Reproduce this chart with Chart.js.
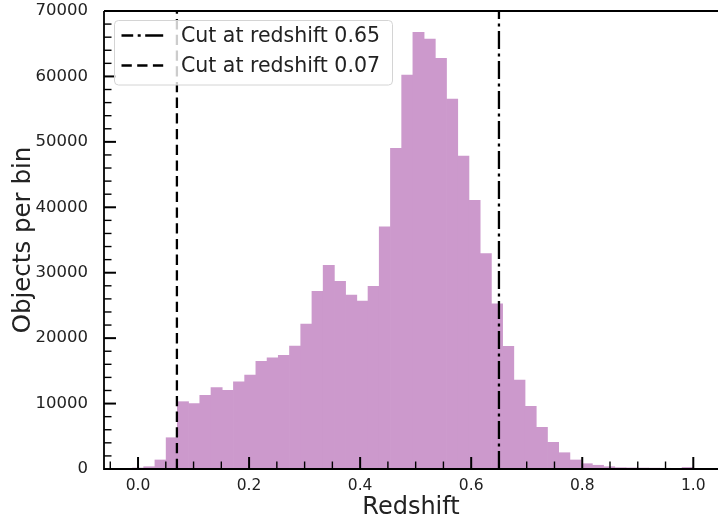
<!DOCTYPE html>
<html>
<head>
<meta charset="utf-8">
<script src="https://cdn.jsdelivr.net/npm/chart.js@4/dist/chart.umd.min.js"></script>
<style>
html, body { margin: 0; padding: 0; background: #fff; }
</style>
</head>
<body>
<canvas id="chart" width="718" height="522"></canvas>
<script>
// histogram bins: 50 bins of width 0.0202 starting at -0.01
const binCenters = [
  0.0001, 0.0203, 0.0405, 0.0607, 0.0809, 0.1011, 0.1213, 0.1415, 0.1617, 0.1819,
  0.2021, 0.2223, 0.2425, 0.2627, 0.2829, 0.3031, 0.3233, 0.3435, 0.3637, 0.3839,
  0.4041, 0.4243, 0.4445, 0.4647, 0.4849, 0.5051, 0.5253, 0.5455, 0.5657, 0.5859,
  0.6061, 0.6263, 0.6465, 0.6667, 0.6869, 0.7071, 0.7273, 0.7475, 0.7677, 0.7879,
  0.8081, 0.8283, 0.8485, 0.8687, 0.8889, 0.9091, 0.9293, 0.9495, 0.9697, 0.9899
]
const counts = [
  150, 350, 1380, 4780, 10290, 9980, 11260, 12430, 12030, 13340,
  14370, 16460, 17010, 17380, 18800, 22160, 27160, 31130, 28690, 26590,
  25680, 27920, 37030, 49010, 60220, 66740, 65720, 62770, 56550, 47840,
  41070, 32910, 25260, 18750, 13600, 9580, 6370, 4080, 2490, 1380,
  810, 570, 350, 200, 170, 150, 130, 110, 0, 230
]
const xTicks = [0, 0.2, 0.4, 0.6, 0.8, 1.0]
const yTicks = [0, 10000, 20000, 30000, 40000, 50000, 60000, 70000]
const cutHigh = 0.65
const cutLow = 0.07
const yMax = 70000

const font = 'DejaVu Sans'
const textColor = '#222'

// inward ticks + spines, matplotlib style
const framePlugin = {
  id: 'frame',
  afterDatasetsDraw(chart) {
    const {ctx, chartArea: a, scales: {x, y}} = chart
    ctx.save()
    ctx.strokeStyle = '#000'
    ctx.lineCap = 'butt'
    for (let i = -1; i <= 21; i++) {
      const v = i * 0.05
      const px = x.getPixelForValue(v)
      if (px < a.left || px > a.right) continue
      const major = i % 4 === 0
      ctx.lineWidth = major ? 2 : 1.4
      ctx.beginPath()
      ctx.moveTo(px, a.bottom)
      ctx.lineTo(px, a.bottom - (major ? 12 : 7.5))
      ctx.stroke()
    }
    for (let v = 0; v <= yMax; v += 2000) {
      const py = y.getPixelForValue(v)
      const major = v % 10000 === 0
      ctx.lineWidth = major ? 2 : 1.4
      ctx.beginPath()
      ctx.moveTo(a.left, py)
      ctx.lineTo(a.left + (major ? 12 : 7.5), py)
      ctx.stroke()
    }
    ctx.lineWidth = 1.8
    ctx.beginPath()
    ctx.moveTo(a.left, a.top)
    ctx.lineTo(a.left, a.bottom)
    ctx.lineTo(a.right, a.bottom)
    ctx.moveTo(a.left, a.top)
    ctx.lineTo(a.right, a.top)
    ctx.stroke()
    ctx.restore()
  }
}

const legendPlugin = {
  id: 'boxLegend',
  afterDraw(chart) {
    const ctx = chart.ctx
    const items = chart.data.datasets.filter(d => d.type === 'line')
    ctx.save()
    ctx.beginPath()
    ctx.roundRect(114.5, 20.5, 278, 64.5, 4)
    ctx.fillStyle = 'rgba(255,255,255,0.8)'
    ctx.fill()
    ctx.strokeStyle = '#d4d4d4'
    ctx.lineWidth = 1
    ctx.stroke()
    items.forEach((d, i) => {
      const cy = 35.5 + i * 30
      ctx.strokeStyle = '#000'
      ctx.lineWidth = d.borderWidth
      ctx.setLineDash(d.borderDash)
      ctx.lineDashOffset = d.legendDashOffset
      ctx.beginPath()
      ctx.moveTo(121.5, cy)
      ctx.lineTo(163.5, cy)
      ctx.stroke()
      ctx.setLineDash([])
      ctx.fillStyle = textColor
      ctx.font = '20.5px "' + font + '"'
      ctx.textBaseline = 'middle'
      ctx.fillText(d.label, 181, cy + 1)
    })
    ctx.restore()
  }
}

new Chart(document.getElementById('chart'), {
  type: 'bar',
  data: {
    datasets: [
      {
        type: 'line',
        label: 'Cut at redshift ' + cutHigh,
        data: [{x: cutHigh, y: 0}, {x: cutHigh, y: yMax}],
        borderColor: '#000',
        borderWidth: 2.3,
        borderDash: [18, 4.5, 3, 4.5],
        legendDashOffset: 6.3,
        pointRadius: 0
      },
      {
        type: 'line',
        label: 'Cut at redshift ' + cutLow,
        data: [{x: cutLow, y: 0}, {x: cutLow, y: yMax}],
        borderColor: '#000',
        borderWidth: 2.3,
        borderDash: [10.3, 5.4],
        legendDashOffset: 0,
        pointRadius: 0
      },
      {
        type: 'bar',
        label: 'Redshift',
        data: binCenters.map((c, i) => ({x: c, y: counts[i]})),
        backgroundColor: '#cc99cc',
        borderWidth: 0,
        categoryPercentage: 1.0,
        barPercentage: 1.0
      }
    ]
  },
  options: {
    responsive: false,
    animation: false,
    layout: {padding: {top: 11, right: 0, left: 0, bottom: 0}},
    plugins: {legend: {display: false}, tooltip: {enabled: false}},
    scales: {
      x: {
        type: 'linear',
        offset: false,
        min: -0.0613,
        max: 1.0445,
        grid: {display: false},
        border: {display: false},
        afterBuildTicks: s => { s.ticks = xTicks.map(v => ({value: v})) },
        afterFit: s => { s.height = 53; s.paddingLeft = 0; s.paddingRight = 0 },
        ticks: {
          callback: v => v.toFixed(1),
          font: {family: font, size: 15.5},
          color: textColor,
          padding: 0,
          maxRotation: 0
        },
        title: {
          display: true,
          text: 'Redshift',
          font: {family: font, size: 24},
          color: textColor,
          padding: {top: 0, bottom: 0}
        }
      },
      y: {
        min: 0,
        max: yMax,
        grid: {display: false},
        border: {display: false},
        afterBuildTicks: s => { s.ticks = yTicks.map(v => ({value: v})) },
        afterFit: s => { s.width = 104; s.paddingTop = 0; s.paddingBottom = 0 },
        ticks: {
          callback: v => String(v),
          font: {family: font, size: 16.5},
          color: textColor,
          padding: 8
        },
        title: {
          display: true,
          text: 'Objects per bin',
          font: {family: font, size: 24.5},
          color: textColor,
          padding: {top: 9, bottom: 0}
        }
      }
    }
  },
  plugins: [framePlugin, legendPlugin]
})
</script>
</body>
</html>
